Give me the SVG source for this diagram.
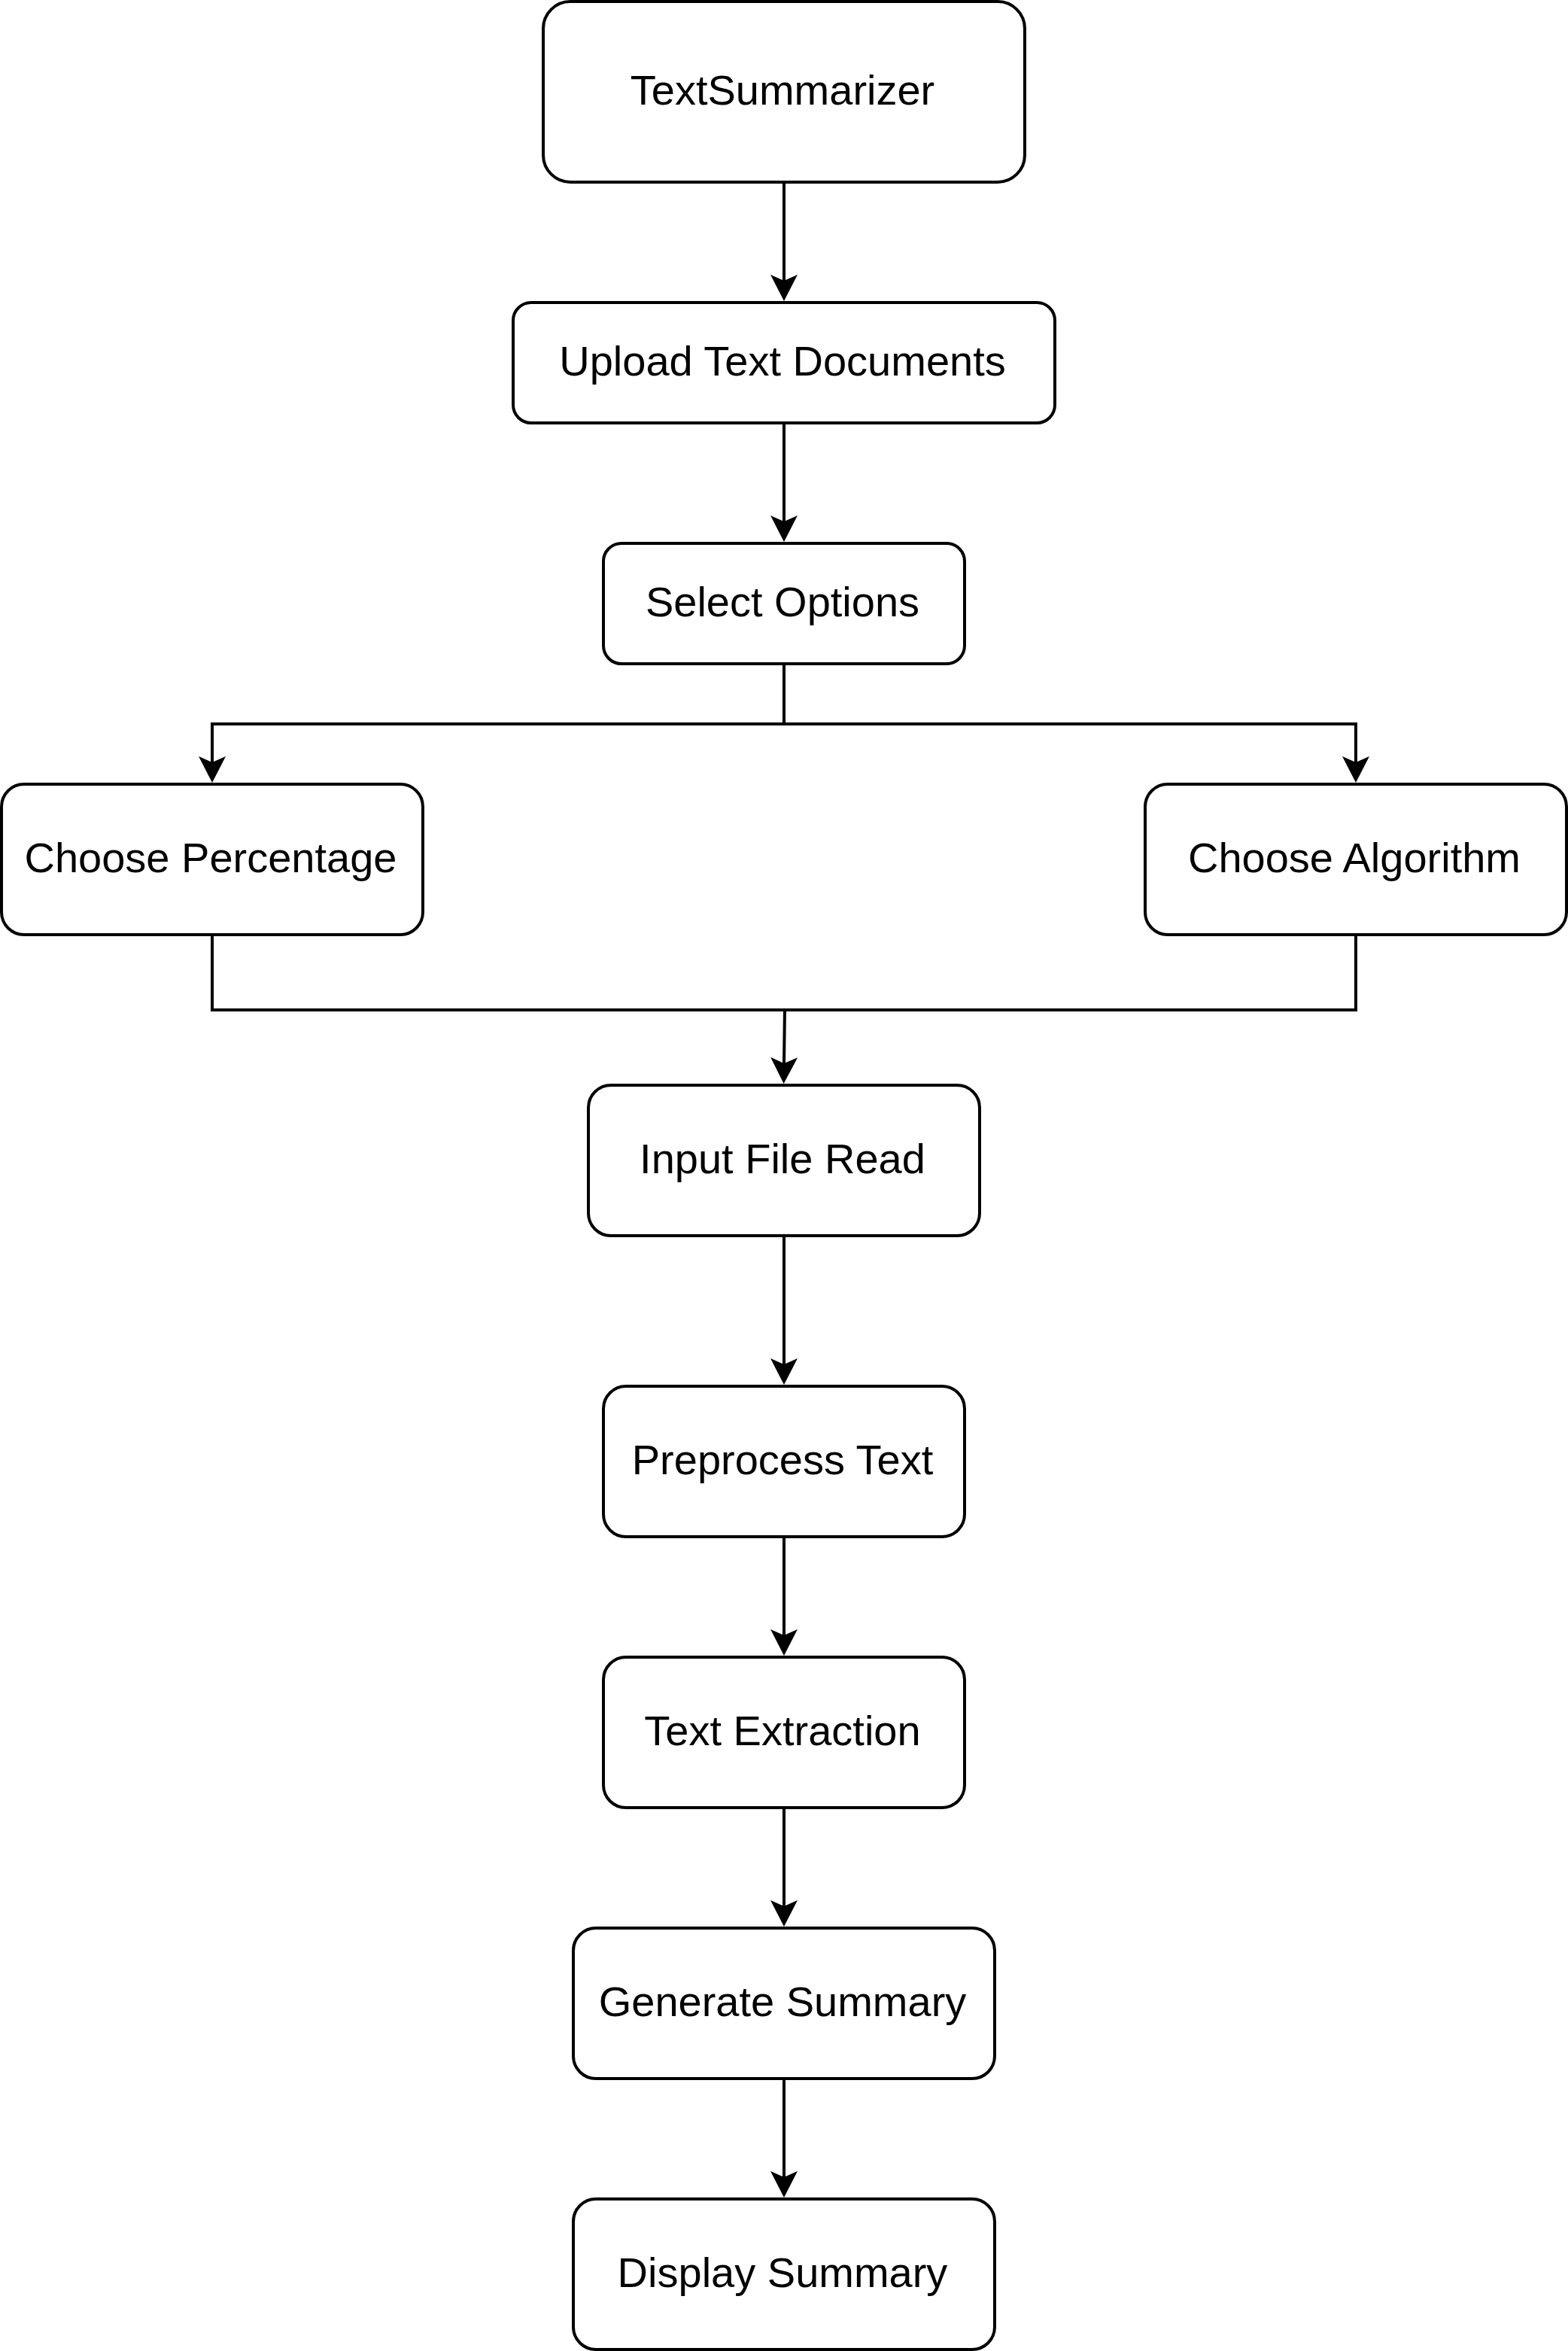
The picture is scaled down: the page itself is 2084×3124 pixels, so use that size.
<svg xmlns="http://www.w3.org/2000/svg" width="2084" height="3124" viewBox="0 0 2084 3124">
  <style>
    .box { fill: #ffffff; stroke: #000000; stroke-width: 4; }
    .label { font-family: "Liberation Sans", Arial, Helvetica, sans-serif; font-size: 56px; fill: #000000; text-anchor: middle; }
    .edge { fill: none; stroke: #000000; stroke-width: 4; stroke-linejoin: miter; }
  </style>
  <defs>
    <marker id="arrow" markerUnits="userSpaceOnUse" viewBox="0 -20 40 40" markerWidth="40" markerHeight="40" refX="8" refY="0" orient="auto" overflow="visible">
      <path d="M0,-18 L35,0 L0,18 L8,0 Z" fill="#000000"/>
    </marker>
  </defs>
  <rect width="2084" height="3124" fill="#ffffff"/>

  <g id="connectors">
    <path class="edge" d="M1042,244 V373" marker-end="url(#arrow)"/>
    <path class="edge" d="M1042,564 V693" marker-end="url(#arrow)"/>
    <path class="edge" d="M1042,884 V962 H282 V1013" marker-end="url(#arrow)"/>
    <path class="edge" d="M1042,884 V962 H1802 V1013" marker-end="url(#arrow)"/>
    <path class="edge" d="M282,1244 V1342 H1043"/>
    <path class="edge" d="M1802,1244 V1342 H1043"/>
    <path class="edge" d="M1043,1342 L1042,1413" marker-end="url(#arrow)"/>
    <path class="edge" d="M1042,1644 V1813" marker-end="url(#arrow)"/>
    <path class="edge" d="M1042,2044 V2173" marker-end="url(#arrow)"/>
    <path class="edge" d="M1042,2404 V2533" marker-end="url(#arrow)"/>
    <path class="edge" d="M1042,2764 V2893" marker-end="url(#arrow)"/>
  </g>

  <g id="text-summarizer">
    <rect class="box" x="722" y="2" width="640" height="240" rx="36" ry="36"/>
    <text class="label" x="1040" y="139">TextSummarizer</text>
  </g>
  <g id="upload-text-documents">
    <rect class="box" x="682" y="402" width="720" height="160" rx="24" ry="24"/>
    <text class="label" x="1040" y="499">Upload Text Documents</text>
  </g>
  <g id="select-options">
    <rect class="box" x="802" y="722" width="480" height="160" rx="24" ry="24"/>
    <text class="label" x="1040" y="819">Select Options</text>
  </g>
  <g id="choose-percentage">
    <rect class="box" x="2" y="1042" width="560" height="200" rx="30" ry="30"/>
    <text class="label" x="280" y="1159">Choose Percentage</text>
  </g>
  <g id="choose-algorithm">
    <rect class="box" x="1522" y="1042" width="560" height="200" rx="30" ry="30"/>
    <text class="label" x="1800" y="1159">Choose Algorithm</text>
  </g>
  <g id="input-file-read">
    <rect class="box" x="782" y="1442" width="520" height="200" rx="30" ry="30"/>
    <text class="label" x="1040" y="1559">Input File Read</text>
  </g>
  <g id="preprocess-text">
    <rect class="box" x="802" y="1842" width="480" height="200" rx="30" ry="30"/>
    <text class="label" x="1040" y="1959">Preprocess Text</text>
  </g>
  <g id="text-extraction">
    <rect class="box" x="802" y="2202" width="480" height="200" rx="30" ry="30"/>
    <text class="label" x="1040" y="2319">Text Extraction</text>
  </g>
  <g id="generate-summary">
    <rect class="box" x="762" y="2562" width="560" height="200" rx="30" ry="30"/>
    <text class="label" x="1040" y="2679">Generate Summary</text>
  </g>
  <g id="display-summary">
    <rect class="box" x="762" y="2922" width="560" height="200" rx="30" ry="30"/>
    <text class="label" x="1040" y="3039">Display Summary</text>
  </g>
</svg>
